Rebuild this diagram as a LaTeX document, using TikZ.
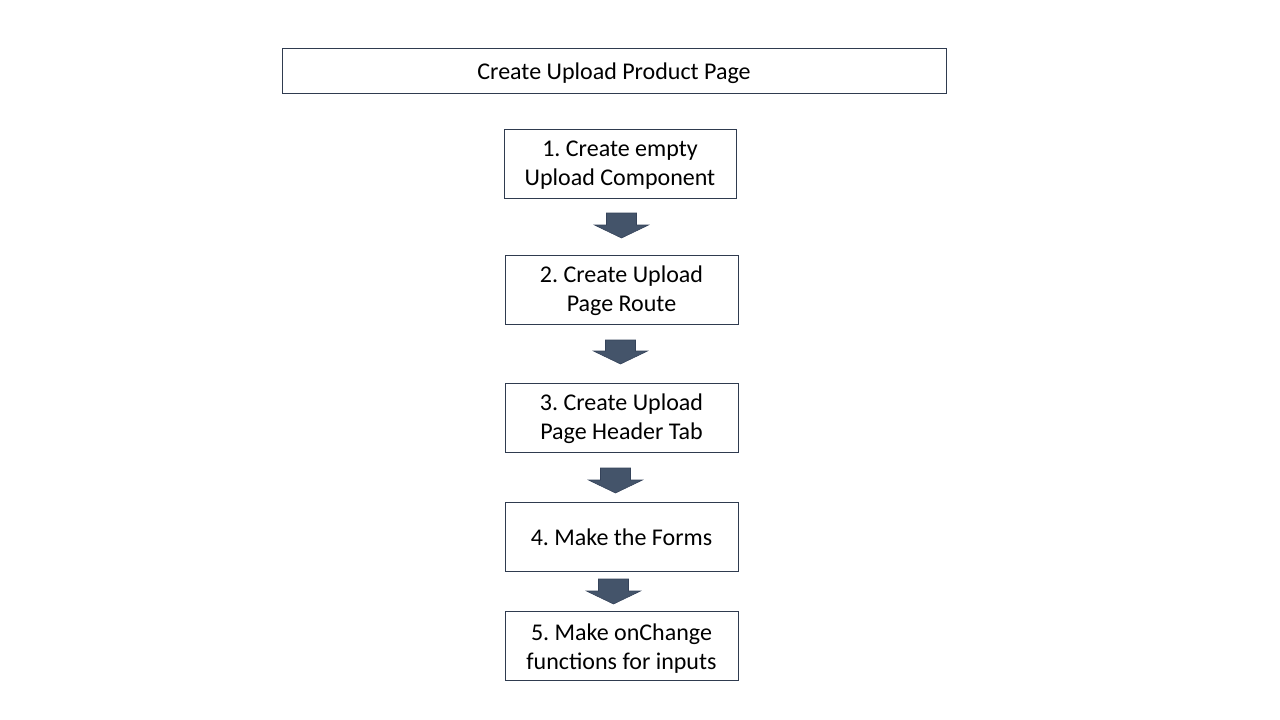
\documentclass[tikz,border=0pt]{standalone}
\usepackage{fontspec}
\setmainfont{Carlito}
\frenchspacing
\definecolor{boxline}{HTML}{2F3B4F}
\definecolor{arrowfill}{HTML}{44546A}
\definecolor{arrowline}{HTML}{35435A}
\newcommand{\lowtext}[2]{\raisebox{-#1}[\height][\depth]{\begin{tabular}{@{}c@{}}#2\end{tabular}}}
\newcommand{\blockarrow}[3]{%
  \filldraw[arrowblock] (#1-15,#2) -- (#1+15,#2) -- (#1+15,#3-13) -- (#1+27,#3-13)
    -- (#1,#3) -- (#1-27,#3-13) -- (#1-15,#3-13) -- cycle;}
\begin{document}
\begin{tikzpicture}[x=1pt,y=-1pt,
  stepbox/.style={draw=boxline, line width=0.8pt, fill=white, align=center,
    minimum width=233pt, minimum height=69pt, inner sep=0pt, font=\fontsize{24}{29}\selectfont},
  titlebox/.style={draw=boxline, line width=0.8pt, fill=white,
    minimum width=664pt, minimum height=45pt, inner sep=0pt, font=\fontsize{24}{29}\selectfont},
  arrowblock/.style={fill=arrowfill, draw=arrowline, line width=0.6pt}]
\useasboundingbox (0,0) rectangle (1280,720);
\fill[white] (0,0) rectangle (1280,720);
\node[titlebox] (title) at (614,70.5) {\lowtext{3pt}{Create Upload Product Page}};
\node[stepbox, minimum width=232pt] (s1) at (620,163.5) {\lowtext{2pt}{1. Create empty\\Upload Component}};
\node[stepbox] (s2) at (621.5,289.5) {\lowtext{2pt}{2. Create Upload\\Page Route}};
\node[stepbox] (s3) at (621.5,417.5) {\lowtext{2pt}{3. Create Upload\\Page Header Tab}};
\node[stepbox] (s4) at (621.5,536.5) {\lowtext{3pt}{4. Make the Forms}};
\node[stepbox] (s5) at (621.5,645.5) {\lowtext{4pt}{5. Make onChange\\functions for inputs}};
\blockarrow{621.5}{213}{238}
\blockarrow{620.5}{340}{364}
\blockarrow{615.5}{468}{493}
\blockarrow{613.5}{579}{604}
\end{tikzpicture}
\end{document}
